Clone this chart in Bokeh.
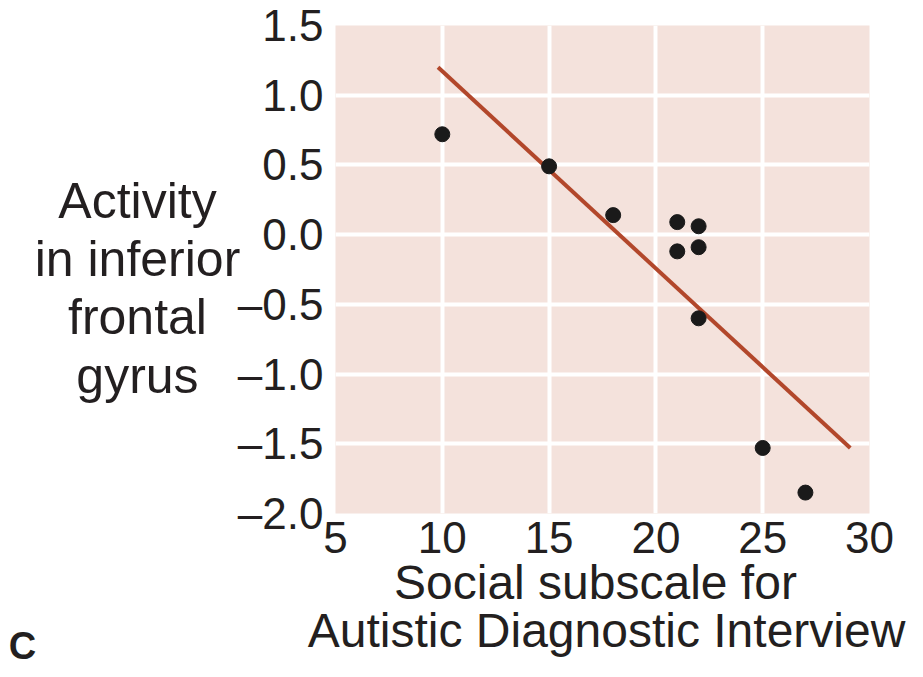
from bokeh.plotting import figure
from bokeh.models import FixedTicker, Label, Range1d, ColumnDataSource
from bokeh.embed import file_html
from bokeh.resources import INLINE

# ---- data ----
adi_social = [10, 15, 18, 21, 22, 21, 22, 22, 25, 27]
ifg_activity = [0.72, 0.49, 0.14, 0.09, 0.06, -0.12, -0.09, -0.60, -1.53, -1.85]
fit_x = [9.8, 29.1]
fit_y = [1.20, -1.53]

x_ticks = [5, 10, 15, 20, 25, 30]
x_tick_labels = ["5", "10", "15", "20", "25", "30"]
y_ticks = [1.5, 1.0, 0.5, 0.0, -0.5, -1.0, -1.5, -2.0]
y_tick_labels = ["1.5", "1.0", "0.5", "0.0", "\u20130.5", "\u20131.0", "\u20131.5", "\u20132.0"]

x_title_lines = ["Social subscale for", "Autistic Diagnostic Interview"]
y_title = "Activity\nin inferior\nfrontal\ngyrus"
panel_letter = "C"

FONT = "Liberation Sans"
PANEL = "#F4E2DC"
LINE = "#B2472B"
INK = "#231f20"

p = figure(width=907, height=661, output_backend="svg", toolbar_location=None,
           x_range=Range1d(5, 30), y_range=Range1d(-2.0, 1.5),
           min_border_left=335, min_border_right=38, min_border_top=25,
           min_border_bottom=148)

p.background_fill_color = PANEL
p.border_fill_color = "white"
p.outline_line_color = None

for g in (p.xgrid, p.ygrid):
    g.grid_line_color = "white"
    g.grid_line_width = 4

p.xaxis.ticker = FixedTicker(ticks=x_ticks)
p.yaxis.ticker = FixedTicker(ticks=y_ticks)
p.xaxis.major_label_overrides = {t: l for t, l in zip(x_ticks, x_tick_labels)}
p.yaxis.major_label_overrides = {t: l for t, l in zip(y_ticks, y_tick_labels)}

for ax in (p.xaxis, p.yaxis):
    ax.axis_line_color = None
    ax.major_tick_line_color = None
    ax.minor_tick_line_color = None
    ax.major_tick_out = 0
    ax.major_tick_in = 0
    ax.minor_tick_out = 0
    ax.minor_tick_in = 0
    ax.major_label_text_font = FONT
    ax.major_label_text_font_size = "44px"
    ax.major_label_text_color = INK
p.xaxis.major_label_standoff = 8
p.xaxis.major_label_text_line_height = 0.8
p.yaxis.major_label_standoff = 12

src = ColumnDataSource(dict(x=adi_social, y=ifg_activity))
p.line(fit_x, fit_y, line_color=LINE, line_width=4)
p.scatter("x", "y", source=src, size=15, fill_color="#1a1a1a", line_color="#1a1a1a")

# y-axis title (horizontal, several lines) in the left border
p.add_layout(Label(x=-4.27, y=-0.385, text=y_title, text_font=FONT,
                   text_font_size="50px", text_align="center",
                   text_baseline="middle", text_color=INK,
                   text_line_height=1.04), "left")

# x-axis title, two lines, in the bottom border
p.add_layout(Label(x=17.17, y=-2.4953, text=x_title_lines[0], text_font=FONT,
                   text_font_size="48px", text_align="center",
                   text_baseline="alphabetic", text_color=INK,
                   text_line_height=0.3), "below")
p.add_layout(Label(x=17.69, y=-2.840, text=x_title_lines[1], text_font=FONT,
                   text_font_size="48px", text_align="center",
                   text_baseline="alphabetic", text_color=INK,
                   text_line_height=0.3), "below")

# panel letter
p.add_layout(Label(x=-9.65, y=-2.948, text=panel_letter, text_font=FONT,
                   text_font_size="38px", text_font_style="bold",
                   text_align="center", text_baseline="middle",
                   text_color=INK), "right")

open("out.html", "w").write(file_html(p, INLINE))
